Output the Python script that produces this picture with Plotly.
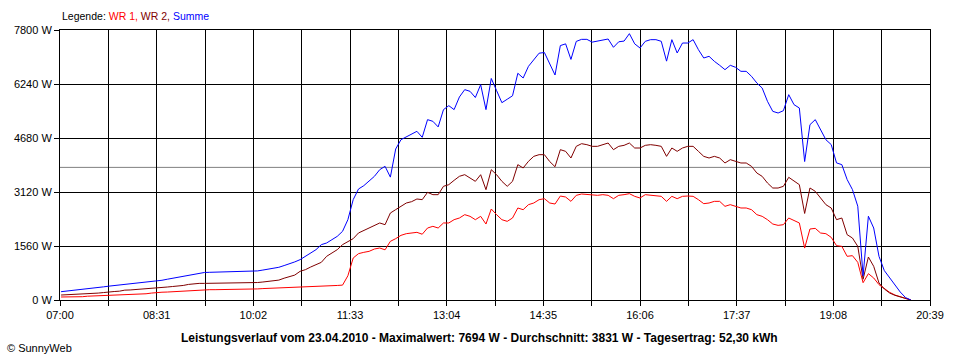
import plotly.graph_objects as go

# time in minutes after 07:00, one sample every 5 minutes (07:01 ... 20:21)
minutes = list(range(1, 802, 5))

wr1 = [
    # 07:01 - 10:41
    87, 87, 90, 90, 95, 110, 115, 120, 125, 144, 145, 145, 145, 170, 175, 175, 180, 200, 222, 225,
    230, 240, 250, 260, 270, 280, 295, 298, 298, 298, 300, 300, 300, 300, 300, 300, 300, 320, 330, 335,
    345, 350, 355, 360, 366,
    # 10:46 - 13:21
    366, 370, 375, 380, 385, 390, 400, 420, 430, 700, 1213, 1339, 1377, 1406, 1473, 1502, 1450, 1695, 1772, 1868,
    1916, 1936, 1955, 1900, 2080, 2128, 2080, 2225, 2225, 2321, 2369, 2465,
    # 13:26 - 16:01
    2417, 2320, 2417, 2195, 2629, 2465, 2320, 2272, 2369, 2658, 2609, 2754, 2802, 2898, 2927, 2802, 2773, 3004, 2975, 2850,
    3024, 3062, 3043, 3024, 3024, 3043, 3024, 2927, 3024, 3043, 3072, 2995,
    # 16:06 - 18:36
    2947, 3043, 3024, 3024, 2995, 2850, 2995, 2927, 2995, 3004, 2995, 2898, 2783, 2802, 2850, 2850, 2706, 2754, 2706, 2658,
    2658, 2609, 2465, 2417, 2320, 2195, 2156, 2176, 2369, 2292, 2225,
    # 18:41 - 20:21
    1500, 2051, 2070, 1935, 1916, 1810, 1570, 1550, 1262, 1281, 1088, 500, 761, 636, 443, 318, 221, 144, 96, 48, 0,
]

wr2 = [
    144, 150, 160, 170, 175, 185, 193, 200, 215, 240, 245, 255, 285, 290, 300, 310, 320, 330, 337, 350,
    375, 390, 400, 420, 450, 470, 480, 480, 482, 482, 485, 485, 485, 485, 485, 490, 495, 505, 520, 535,
    555, 575, 630, 670, 720,
    828, 876, 953, 1021, 1088, 1262, 1358, 1454, 1599, 1695, 1772, 1936, 2013, 2080, 2157, 2225, 2176, 2513, 2610, 2706,
    2802, 2841, 2918, 2899, 3110, 3043, 3043, 3284, 3332, 3457, 3573, 3621,
    3524, 3428, 3620, 3187, 3765, 3620, 3428, 3284, 3428, 3910, 3813, 4006, 4150, 4198, 4198, 4000, 3850, 4343, 4295, 4102,
    4439, 4516, 4487, 4439, 4439, 4487, 4535, 4343, 4439, 4468, 4535, 4391,
    4391, 4468, 4487, 4468, 4439, 4150, 4391, 4295, 4391, 4439, 4439, 4295, 4150, 4102, 4150, 4102, 3958, 4054, 4006, 3958,
    3958, 3861, 3669, 3572, 3380, 3235, 3235, 3284, 3544, 3447, 3332,
    2500, 3236, 3139, 2947, 2754, 2658, 2321, 2369, 1887, 1791, 1550, 600, 1242, 973, 491, 318, 202, 135, 87, 40, 0,
]

summe = [
    240, 255, 270, 290, 305, 320, 340, 360, 380, 400, 415, 430, 445, 460, 480, 495, 510, 530, 550, 570,
    600, 630, 660, 690, 720, 750, 775, 795, 800, 805, 810, 815, 815, 820, 820, 825, 830, 840, 865, 890,
    915, 945, 995, 1040, 1100,
    1165, 1262, 1358, 1454, 1599, 1647, 1743, 1839, 1984, 2321, 2899, 3207, 3303, 3428, 3573, 3765, 3862, 3550, 4362, 4632,
    4709, 4777, 4873, 4700, 5210, 5162, 5000, 5499, 5614, 5500, 5865, 6077,
    6028, 5850, 6221, 5500, 6400, 6050, 5700, 5800, 5900, 6550, 6413, 6750, 6950, 7130, 7150, 6800, 6500, 7350, 7400, 6950,
    7470, 7530, 7530, 7450, 7480, 7520, 7540, 7300, 7460, 7480, 7694, 7400,
    7280, 7473, 7521, 7521, 7473, 6900, 7521, 7136, 7424, 7424, 7521, 7232, 6991, 7040, 6895, 6780, 6654, 6780, 6722, 6606,
    6606, 6461, 6269, 6124, 5739, 5450, 5402, 5469, 5932, 5643, 5547,
    4000, 5065, 5210, 4920, 4630, 4490, 3960, 3910, 3480, 3190, 2710, 700, 2420, 2080, 1260, 850, 640, 420, 230, 70, 0,
]

average_w = 3831
tick_labels = ["07:00", "08:31", "10:02", "11:33", "13:04", "14:35", "16:06", "17:37", "19:08", "20:39"]
y_ticks = [0, 1560, 3120, 4680, 6240, 7800]
series_names = ["WR 1", "WR 2", "Summe"]
series_colors = ["#FF0000", "#800000", "#0000FF"]
title_text = ("Leistungsverlauf vom 23.04.2010 - Maximalwert: 7694 W - "
              "Durchschnitt: 3831 W - Tagesertrag: 52,30 kWh")

FONT = "Liberation Sans, Arial, sans-serif"


def to_min(label):
    h, m = label.split(":")
    return int(h) * 60 + int(m) - 7 * 60


label_pos = [to_min(t) for t in tick_labels]
tickvals, ticktext = [], []
for i, p in enumerate(label_pos):
    tickvals.append(p)
    ticktext.append(tick_labels[i])
    if i < len(label_pos) - 1:
        tickvals.append((p + label_pos[i + 1]) / 2)
        ticktext.append("")

fig = go.Figure()
for name, vals, col in zip(series_names, [wr1, wr2, summe], series_colors):
    fig.add_trace(go.Scatter(x=minutes, y=vals, mode="lines", name=name,
                             line=dict(color=col, width=1)))

fig.add_shape(type="line", xref="paper", x0=0, x1=1, yref="y", y0=average_w, y1=average_w,
              line=dict(color="#808080", width=1), layer="below")

legend_html = ("Legende: <span style='color:#FF0000'>WR 1, </span>"
               "<span style='color:#800000'>WR 2, </span>"
               "<span style='color:#0000FF'>Summe</span>")
fig.add_annotation(text=legend_html, xref="paper", yref="paper", x=0, y=1.052,
                   xanchor="left", yanchor="middle", showarrow=False,
                   font=dict(family=FONT, size=10.5, color="black"))
fig.add_annotation(text="<b>" + title_text + "</b>", xref="paper", yref="paper", x=0.482, y=-0.141,
                   xanchor="center", yanchor="middle", showarrow=False,
                   font=dict(family=FONT, size=12, color="black"))
fig.add_annotation(text="© SunnyWeb", xref="paper", yref="paper", x=-0.063, y=-0.178,
                   xanchor="left", yanchor="middle", showarrow=False,
                   font=dict(family=FONT, size=11, color="black"))

fig.update_layout(
    width=960, height=360,
    margin=dict(l=60, r=30, t=30, b=60, pad=0),
    paper_bgcolor="white", plot_bgcolor="white",
    showlegend=False,
    font=dict(family=FONT, size=11, color="black"),
)
fig.update_xaxes(range=[0, label_pos[-1]], tickmode="array", tickvals=tickvals, ticktext=ticktext,
                 showgrid=True, gridcolor="black", gridwidth=1,
                 showline=True, linecolor="black", linewidth=1, mirror=True,
                 ticks="outside", ticklen=5, tickcolor="black", zeroline=False,
                 tickfont=dict(family=FONT, size=11, color="black"))
fig.update_yaxes(range=[0, 7800], tickmode="array", tickvals=y_ticks,
                 ticktext=[f"{v} W" for v in y_ticks],
                 showgrid=True, gridcolor="black", gridwidth=1,
                 showline=True, linecolor="black", linewidth=1, mirror=True,
                 ticks="outside", ticklen=5, tickcolor="black", zeroline=False,
                 tickfont=dict(family=FONT, size=11, color="black"))

fig.write_html("out.html", config={"displayModeBar": False},
               post_script="document.body.style.margin='0';")
